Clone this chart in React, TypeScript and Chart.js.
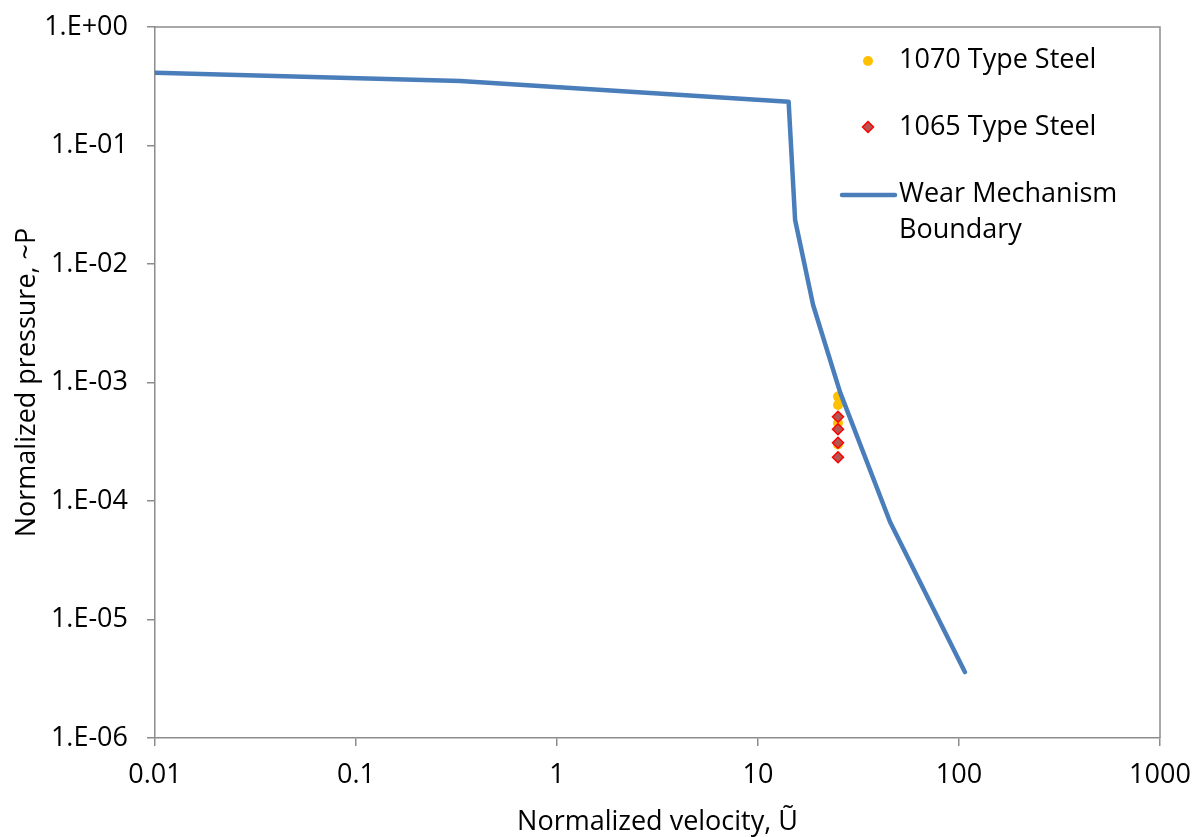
import React, { useEffect, useRef } from "react";
import { Chart, registerables } from "chart.js";

Chart.register(...registerables);

const boundaryX = [0.01, 0.33, 14.2, 15.3, 18.8, 25.6, 45.4, 107];
const boundaryY = [0.411, 0.35, 0.234, 0.0235, 0.00451, 0.00083, 0.0000665, 0.0000036];

const steel1070X = [25, 25, 25, 25];
const steel1070Y = [0.00076, 0.000645, 0.000455, 0.0003];

const steel1065X = [25, 25, 25, 25];
const steel1065Y = [0.000514, 0.000403, 0.00031, 0.000234];

const xTicks = [0.01, 0.1, 1, 10, 100, 1000];
const xTickLabels = ["0.01", "0.1", "1", "10", "100", "1000"];
const yTicks = [1e-6, 1e-5, 1e-4, 1e-3, 1e-2, 1e-1, 1];
const yTickLabels = ["1.E-06", "1.E-05", "1.E-04", "1.E-03", "1.E-02", "1.E-01", "1.E+00"];

const legendLabels = ["1070 Type Steel", "1065 Type Steel", ["Wear Mechanism", "Boundary"]];

const FONT = "'Open Sans', 'Noto Sans', sans-serif";
const FS = 27;
const LINE_COLOR = "#4A7EBB";
const YELLOW = "#FFC000";
const RED_FILL = "#B85450";
const RED_BORDER = "#FF0000";
const AXIS_COLOR = "#8C8C8C";

const framePlugin = {
  id: "frame",
  afterDraw(chart: any) {
    const { ctx, chartArea } = chart;
    ctx.save();
    ctx.strokeStyle = AXIS_COLOR;
    ctx.lineWidth = 1.5;
    ctx.beginPath();
    ctx.moveTo(chartArea.left, chartArea.top);
    ctx.lineTo(chartArea.right, chartArea.top);
    ctx.lineTo(chartArea.right, chartArea.bottom);
    ctx.stroke();
    ctx.restore();
  },
};

const legendPlugin = {
  id: "customLegend",
  afterDraw(chart: any) {
    const { ctx } = chart;
    ctx.save();
    ctx.font = `${FS}px ${FONT}`;
    ctx.fillStyle = "#000";
    ctx.textBaseline = "middle";
    ctx.textAlign = "left";
    const textX = 899;
    // row 1
    ctx.beginPath();
    ctx.arc(868, 61, 5, 0, Math.PI * 2);
    ctx.fillStyle = YELLOW;
    ctx.fill();
    ctx.fillStyle = "#000";
    ctx.fillText(legendLabels[0] as string, textX, 60);
    // row 2
    ctx.beginPath();
    ctx.moveTo(868, 121.5);
    ctx.lineTo(873.5, 127);
    ctx.lineTo(868, 132.5);
    ctx.lineTo(862.5, 127);
    ctx.closePath();
    ctx.fillStyle = RED_FILL;
    ctx.fill();
    ctx.strokeStyle = RED_BORDER;
    ctx.lineWidth = 1.5;
    ctx.stroke();
    ctx.fillStyle = "#000";
    ctx.fillText(legendLabels[1] as string, textX, 127);
    // row 3
    ctx.beginPath();
    ctx.moveTo(842, 195);
    ctx.lineTo(895, 195);
    ctx.strokeStyle = LINE_COLOR;
    ctx.lineWidth = 4.5;
    ctx.lineCap = "round";
    ctx.stroke();
    const l3 = legendLabels[2] as string[];
    ctx.fillText(l3[0], textX, 194);
    ctx.fillText(l3[1], textX, 230);
    ctx.restore();
  },
};

export default function App() {
  const ref = useRef<HTMLCanvasElement>(null);
  useEffect(() => {
    document.body.style.margin = "0";
    const toPts = (xs: number[], ys: number[]) => xs.map((x, i) => ({ x, y: ys[i] }));
    const chart = new Chart(ref.current!, {
      type: "scatter",
      data: {
        datasets: [
          {
            label: "Wear Mechanism Boundary",
            data: toPts(boundaryX, boundaryY),
            showLine: true,
            borderColor: LINE_COLOR,
            backgroundColor: LINE_COLOR,
            borderWidth: 4.5,
            pointRadius: 0,
            tension: 0,
            borderCapStyle: "round",
            borderJoinStyle: "round",
            order: 1,
          } as any,
          {
            label: "1065 Type Steel",
            data: toPts(steel1065X, steel1065Y),
            pointStyle: "rectRot",
            pointRadius: 5.5,
            backgroundColor: RED_FILL,
            borderColor: RED_BORDER,
            borderWidth: 1.5,
            order: 2,
          },
          {
            label: "1070 Type Steel",
            data: toPts(steel1070X, steel1070Y),
            pointStyle: "circle",
            pointRadius: 5,
            backgroundColor: YELLOW,
            borderColor: YELLOW,
            borderWidth: 0,
            order: 3,
          },
        ],
      },
      options: {
        animation: false,
        responsive: false,
        maintainAspectRatio: false,
        layout: { padding: { left: 0, right: 41, top: 27, bottom: 0 } },
        plugins: {
          legend: { display: false },
          tooltip: { enabled: false },
        },
        scales: {
          x: {
            type: "logarithmic",
            min: 0.01,
            max: 1000,
            afterBuildTicks: (s: any) => {
              s.ticks = xTicks.map((v) => ({ value: v }));
            },
            afterFit: (s: any) => {
              s.height = 99;
              s.paddingLeft = 0;
              s.paddingRight = 0;
            },
            ticks: {
              autoSkip: false,
              maxRotation: 0,
              color: "#000",
              font: { family: FONT, size: FS },
              padding: 13,
              callback: (v: any) => {
                const i = xTicks.findIndex((t) => Math.abs(Math.log10(t) - Math.log10(v)) < 1e-6);
                return i >= 0 ? xTickLabels[i] : "";
              },
            },
            grid: {
              display: true,
              drawOnChartArea: false,
              drawTicks: true,
              tickLength: 8,
              color: AXIS_COLOR,
              lineWidth: 1.5,
            },
            border: { color: AXIS_COLOR, width: 1.5 },
            title: {
              display: true,
              text: "Normalized velocity, Ũ",
              color: "#000",
              font: { family: FONT, size: FS },
              padding: { top: 14, bottom: -2 },
            },
          },
          y: {
            type: "logarithmic",
            min: 1e-6,
            max: 1,
            afterBuildTicks: (s: any) => {
              s.ticks = yTicks.map((v) => ({ value: v }));
            },
            afterFit: (s: any) => {
              s.width = 155;
              s.paddingTop = 0;
              s.paddingBottom = 0;
            },
            ticks: {
              autoSkip: false,
              color: "#000",
              font: { family: FONT, size: FS },
              padding: 19,
              callback: (v: any) => {
                const i = yTicks.findIndex((t) => Math.abs(Math.log10(t) - Math.log10(v)) < 1e-6);
                return i >= 0 ? yTickLabels[i] : "";
              },
            },
            grid: {
              display: true,
              drawOnChartArea: false,
              drawTicks: true,
              tickLength: 8,
              color: AXIS_COLOR,
              lineWidth: 1.5,
            },
            border: { color: AXIS_COLOR, width: 1.5 },
            title: {
              display: true,
              text: "Normalized pressure, ~P",
              color: "#000",
              font: { family: FONT, size: FS },
              padding: { top: 11, bottom: 0 },
            },
          },
        },
      },
      plugins: [framePlugin, legendPlugin],
    });
    return () => chart.destroy();
  }, []);
  return (
    <div style={{ position: "fixed", left: 0, top: 0, width: 1201, height: 837, background: "#fff" }}>
      <canvas ref={ref} width={1201} height={837} style={{ width: 1201, height: 837 }} />
    </div>
  );
}
